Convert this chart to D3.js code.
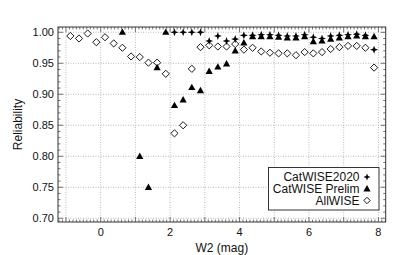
<!DOCTYPE html>
<html><head><meta charset="utf-8">
<script src="https://cdn.jsdelivr.net/npm/d3@7"></script>
<style>
html,body{margin:0;padding:0;background:#fff;}
svg{display:block;font-family:"Liberation Sans",Arial,Helvetica,sans-serif;}
</style></head>
<body>
<svg id="c" width="407" height="255"></svg>
<script>
// ---- data ----
const magBins = [-0.875,-0.625,-0.375,-0.125,0.125,0.375,0.625,0.875,1.125,1.375,1.625,1.875,
  2.125,2.375,2.625,2.875,3.125,3.375,3.625,3.875,4.125,4.375,4.625,4.875,5.125,5.375,5.625,5.875,
  6.125,6.375,6.625,6.875,7.125,7.375,7.625,7.875];
const allwise = [0.994,0.990,0.998,0.984,0.992,0.982,0.975,0.961,0.960,0.951,0.951,0.933,
  0.837,0.850,0.941,0.976,0.979,0.977,0.977,0.981,0.972,0.975,0.969,0.967,0.966,0.966,0.963,0.968,
  0.966,0.968,0.973,0.976,0.978,0.978,0.975,0.943];
const prelimMag = [0.625,1.125,1.375,1.625,1.875,2.125,2.375,2.625,2.875,3.125,3.375,3.625,3.875,4.125,
  4.375,4.625,4.875,5.125,5.375,5.625,5.875,6.125,6.375,6.625,6.875,7.125,7.375,7.625,7.875];
const prelim = [1.000,0.800,0.750,0.943,1.000,0.882,0.891,0.911,0.906,0.937,0.944,0.949,0.970,0.983,
  0.993,0.993,0.993,0.992,0.991,0.991,0.993,0.985,0.986,0.989,0.991,0.993,0.994,0.993,0.993];
const cw2020Mag = [2.125,2.375,2.625,2.875,3.125,3.375,3.625,3.875,4.125,4.375,4.625,4.875,5.125,5.375,
  5.625,5.875,6.125,6.375,6.625,6.875,7.125,7.375,7.625,7.875];
const cw2020 = [1.000,1.000,1.000,1.000,0.986,0.994,0.986,0.989,0.995,0.995,0.996,0.996,0.995,0.994,
  0.994,0.996,0.992,0.990,0.994,0.995,0.996,0.997,0.995,0.972];
const xTickLabels = [0,2,4,6,8];
const yTickLabels = [0.70,0.75,0.80,0.85,0.90,0.95,1.00];
const legendNames = ["CatWISE2020","CatWISE Prelim","AllWISE"];

// ---- layout ----
const L=58, R=385.7, T=27, B=222;
const svg = d3.select("#c");
const x = d3.scaleLinear().domain([-1.23,8.21]).range([L,R]);
const y = d3.scaleLinear().domain([0.694,1.0085]).range([B,T]);

// grid
const g = svg.append("g");
const xGrid = d3.range(-1,9,1);
const yGrid = d3.range(0.70,1.001,0.05);
g.selectAll(".vg").data(xGrid).join("line")
  .attr("x1",d=>x(d)).attr("x2",d=>x(d)).attr("y1",T).attr("y2",B)
  .attr("stroke","#aaa").attr("stroke-width",0.8).attr("stroke-dasharray","1,1.5");
g.selectAll(".hg").data(yGrid).join("line")
  .attr("y1",d=>y(d)).attr("y2",d=>y(d)).attr("x1",L).attr("x2",R)
  .attr("stroke","#aaa").attr("stroke-width",0.8).attr("stroke-dasharray","1,1.5");

// ticks (inward, all sides)
const tk = svg.append("g").attr("stroke","#555").attr("stroke-width",0.8);
const xMinor = d3.range(-12,83,1).map(d=>d/10);
xMinor.forEach(v=>{
  const major = Math.abs(v-Math.round(v))<1e-6;
  const len = major?5:2.5;
  tk.append("line").attr("x1",x(v)).attr("x2",x(v)).attr("y1",B).attr("y2",B-len);
  tk.append("line").attr("x1",x(v)).attr("x2",x(v)).attr("y1",T).attr("y2",T+len);
});
const yMinor = d3.range(70,101,1).map(d=>d/100);
yMinor.forEach(v=>{
  const major = (Math.round(v*100)%5)===0;
  const len = major?5:2.5;
  tk.append("line").attr("y1",y(v)).attr("y2",y(v)).attr("x1",L).attr("x2",L+len);
  tk.append("line").attr("y1",y(v)).attr("y2",y(v)).attr("x1",R).attr("x2",R-len);
});

// frame
svg.append("rect").attr("x",L).attr("y",T).attr("width",R-L).attr("height",B-T)
  .attr("fill","none").attr("stroke","#333").attr("stroke-width",1);

// tick labels
svg.selectAll(".xl").data(xTickLabels).join("text")
  .attr("x",d=>x(d)).attr("y",236).attr("text-anchor","middle")
  .attr("font-size",11).attr("fill","#111").text(d=>d);
svg.selectAll(".yl").data(yTickLabels).join("text")
  .attr("x",54).attr("y",d=>y(d)+4).attr("text-anchor","end")
  .attr("font-size",11).attr("fill","#111").text(d=>d.toFixed(2));

// axis titles
svg.append("text").attr("x",(L+R)/2).attr("y",251.5).attr("text-anchor","middle")
  .attr("font-size",12).attr("fill","#111").text("W2 (mag)");
svg.append("text").attr("transform",`translate(22,${(T+B)/2}) rotate(-90)`)
  .attr("text-anchor","middle").attr("font-size",12).attr("fill","#111").text("Reliability");

// marker shapes
const starPath = (r)=>{
  const ri=r*0.38; const pts=[];
  for(let i=0;i<8;i++){const a=i*Math.PI/4 - Math.PI/2; const rr=i%2?ri:r; pts.push([rr*Math.cos(a),rr*Math.sin(a)]);}
  return "M"+pts.map(p=>p[0].toFixed(2)+","+p[1].toFixed(2)).join("L")+"Z";
};
const triPath = "M0,-3.8L3.6,2.6L-3.6,2.6Z";
const diaPath = "M0,-3.6L3.6,0L0,3.6L-3.6,0Z";

const plot = svg.append("g");
plot.selectAll(".dia").data(magBins.map((m,i)=>[m,allwise[i]])).join("path")
  .attr("d",diaPath).attr("transform",d=>`translate(${x(d[0])},${y(d[1])})`)
  .attr("fill","#fff").attr("stroke","#000").attr("stroke-width",0.9);
plot.selectAll(".tri").data(prelimMag.map((m,i)=>[m,prelim[i]])).join("path")
  .attr("d",triPath).attr("transform",d=>`translate(${x(d[0])},${y(d[1])})`)
  .attr("fill","#000");
plot.selectAll(".star").data(cw2020Mag.map((m,i)=>[m,cw2020[i]])).join("path")
  .attr("d",starPath(4)).attr("transform",d=>`translate(${x(d[0])},${y(d[1])})`)
  .attr("fill","#000");

// legend
const lg = svg.append("g");
lg.append("rect").attr("x",268.5).attr("y",167.5).attr("width",110.5).attr("height",42.5)
  .attr("fill","#fff").attr("stroke","#333").attr("stroke-width",1);
const rowsBase = [181.3,193,204.7];
legendNames.forEach((n,i)=>{
  lg.append("text").attr("x",359.5).attr("y",rowsBase[i]).attr("text-anchor","end")
    .attr("font-size",12).attr("fill","#111").text(n);
});
lg.append("path").attr("d",starPath(3.6)).attr("transform",`translate(367,177)`).attr("fill","#000");
lg.append("path").attr("d",triPath).attr("transform",`translate(367,188.8)`).attr("fill","#000");
lg.append("path").attr("d","M0,-3.2L3.2,0L0,3.2L-3.2,0Z").attr("transform",`translate(367,200.5)`)
  .attr("fill","#fff").attr("stroke","#000").attr("stroke-width",0.9);
</script>
</body></html>
